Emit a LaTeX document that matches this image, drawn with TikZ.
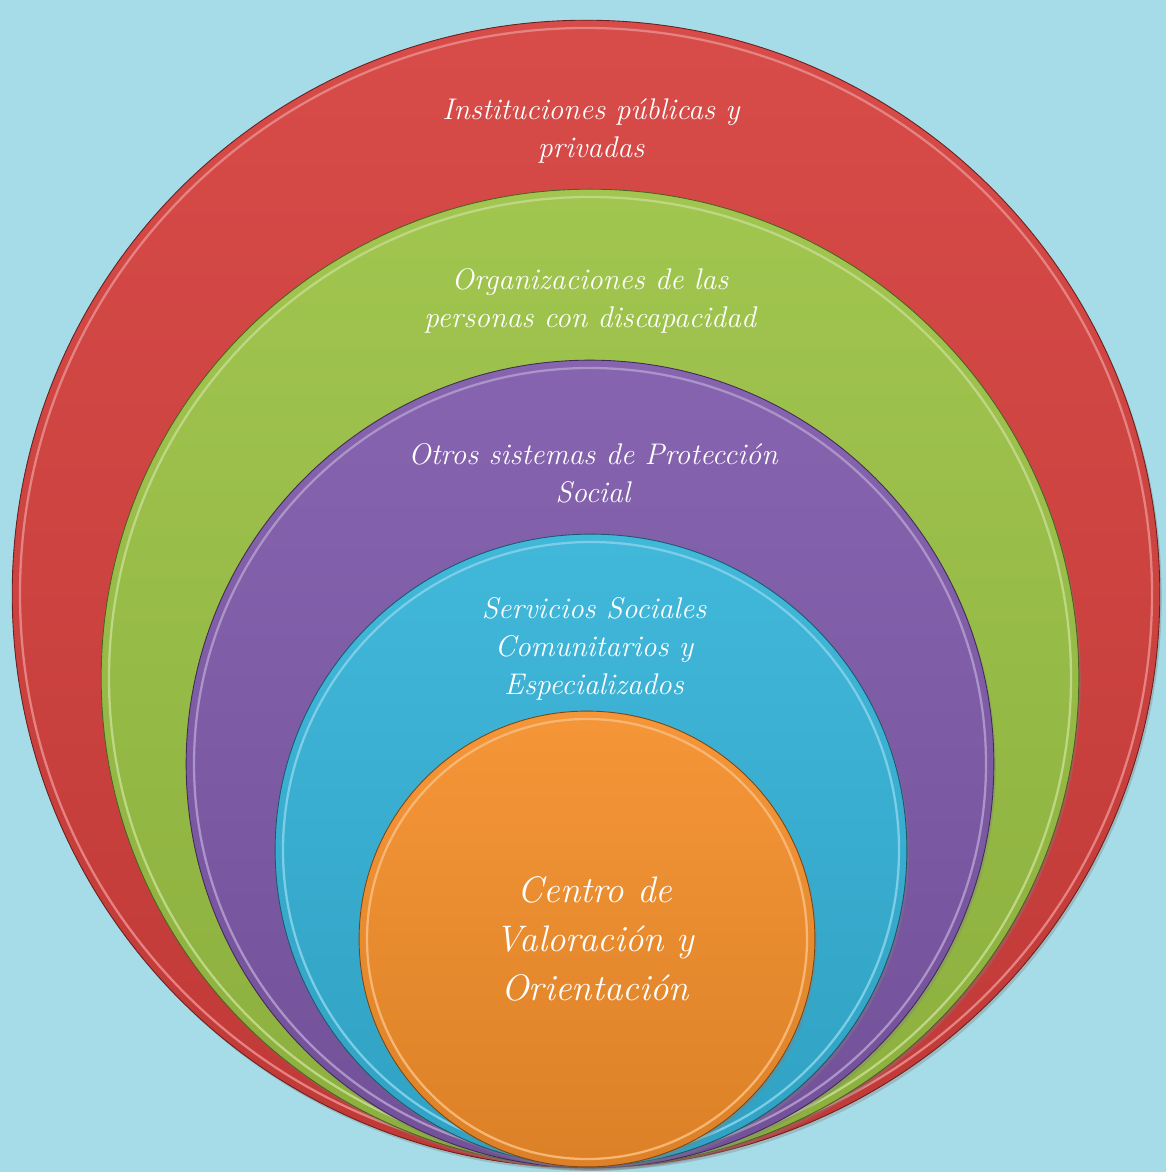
\documentclass[tikz,border=0pt]{standalone}
\usepackage{fontspec}
\usetikzlibrary{shadows}
\definecolor{waterbg}{HTML}{A6DCE8}
\definecolor{ringred}{HTML}{D5403D}
\definecolor{ringgreen}{HTML}{9BC244}
\definecolor{ringpurple}{HTML}{7F5AAA}
\definecolor{ringcyan}{HTML}{35B3D8}
\definecolor{ringorange}{HTML}{F48F2B}
\tikzset{
		>=stealth,
		ring/.style={circle, inner sep=0pt, outer sep=0pt, draw=#1!50!black, line width=.5pt,
			top color=#1!94!white, bottom color=#1!90!black,
			drop shadow={opacity=.35, shadow xshift=.4mm, shadow yshift=-.6mm}},
		rim/.style={#1!65!white, line width=1.3pt},
		ringtext/.style={text=white, align=center, font=\itshape\fontsize{17}{21.6}\selectfont}
	}

\begin{document}
\begin{tikzpicture}[x=0.02cm, y=-0.02cm]
		% Background
		\fill[waterbg] (0,0) rectangle (1166,1172);
		\useasboundingbox (0,0) rectangle (1166,1172);
		% Circles
		\foreach \n/\c/\x/\y/\r in {public/ringred/586/594/574, organiz/ringgreen/590/678/489, social/ringpurple/590/764/404, services/ringcyan/591/850/316, center/ringorange/587/939/228} {
			\node[ring=\c, minimum size=\r*0.04cm] (\n) at (\x,\y) {};
			\draw[rim=\c] (\n.center) circle[radius={(\r-8)*0.02cm}];
		}
		% Labels
		\node[ringtext] (publictext) at (591,131) {Instituciones públicas y\\privadas};
		\node[ringtext] (organiztext) at (590,301) {Organizaciones de las\\personas con discapacidad};
		\node[ringtext] (socialtext) at (593,473) {Otros sistemas de Protección\\Social};
		\node[ringtext] (servicestext) at (594,649) {Servicios Sociales\\Comunitarios y\\Especializados};
		\node[ringtext, font=\itshape\fontsize{21}{28}\selectfont] (centertext) at (595,939) {Centro de\\Valoración y\\Orientación};
	\end{tikzpicture}
\end{document}
